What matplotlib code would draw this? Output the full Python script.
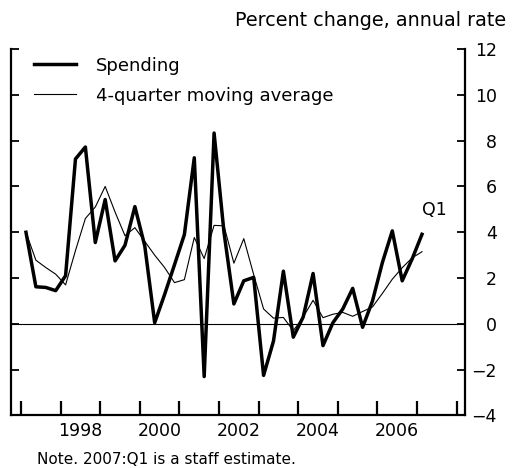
import matplotlib
matplotlib.use('Agg')
import matplotlib.pyplot as plt
import numpy as np
import pandas as pd

plt.rcParams['font.family'] = ['DejaVu Sans']

# quarterly data, 1997:Q1 - 2007:Q1
quarters = pd.period_range('1997Q1', '2007Q1', freq='Q')
spending = [4.0, 1.62, 1.59, 1.45, 2.1, 7.2, 7.72, 3.55, 5.43, 2.75,
            3.43, 5.12, 3.4, 0.05, 1.28, 2.58, 3.9, 7.25, -2.3, 8.33,
            4.0, 0.87, 1.88, 2.03, -2.25, -0.75, 2.3, -0.58, 0.3, 2.2,
            -0.95, 0.05, 0.65, 1.55, -0.15, 1.0, 2.68, 4.06, 1.88, 2.83,
            3.91]
moving_avg = [4.0, 2.78, 2.46, 2.17, 1.7, 3.2, 4.6, 5.1, 6.0, 4.88,
              3.85, 4.2, 3.6, 3.0, 2.46, 1.8, 1.93, 3.77, 2.85, 4.3,
              4.28, 2.65, 3.72, 2.15, 0.65, 0.25, 0.28, -0.3, 0.3, 1.03,
              0.27, 0.42, 0.5, 0.33, 0.54, 0.74, 1.33, 1.95, 2.45, 2.88,
              3.15]
year_labels = ['1998', '2000', '2002', '2004', '2006']
y_ticks = [-4, -2, 0, 2, 4, 6, 8, 10, 12]

x = np.array([q.year + (q.quarter - 0.5) / 4 for q in quarters])

fig = plt.figure(figsize=(5.15, 4.68), dpi=100)
ax = fig.add_axes([0.0214, 0.1122, 0.8816, 0.7831])

ax.axhline(0, color='black', lw=0.8)
ax.plot(x, spending, color='black', lw=2.5, label='Spending')
ax.plot(x, moving_avg, color='black', lw=0.8, label='4-quarter moving average')

ax.set_xlim(1996.7475, 2008.212)
ax.set_ylim(-4, 12)

ax.spines['top'].set_visible(False)
for s in ['left', 'right', 'bottom']:
    ax.spines[s].set_linewidth(1.6)

# y axis: ticks on both sides pointing in, labels on the right, right-aligned
ax.yaxis.set_ticks_position('both')
ax.set_yticks(y_ticks)
ax.tick_params(axis='y', which='major', direction='in', length=6, width=1.3,
               labelleft=False, labelright=True, labelsize=12.5, pad=23)
for t in ax.yaxis.get_major_ticks():
    t.label2.set_horizontalalignment('right')

# x axis: long ticks at year starts, labels mid-year
ax.set_xticks(np.arange(1997, 2009))
ax.set_xticklabels([])
ax.set_xticks([int(y) + 0.5 for y in year_labels], minor=True)
ax.set_xticklabels(year_labels, minor=True)
ax.tick_params(axis='x', which='major', direction='in', length=10, width=1.6)
ax.tick_params(axis='x', which='minor', length=0, labelsize=12.5, pad=5)

ax.legend(loc='upper left', bbox_to_anchor=(0.066, 0.8786),
          bbox_transform=fig.transFigure, frameon=False, borderpad=0,
          borderaxespad=0, fontsize=13, handlelength=2.33,
          handletextpad=1.1, labelspacing=0.65)

ax.text(2007.45, 4.95, 'Q1', ha='center', va='center', fontsize=12.5)

fig.text(0.983, 0.957, 'Percent change, annual rate', ha='right',
         va='center', fontsize=13.8)
fig.text(0.071, 0.008, 'Note. 2007:Q1 is a staff estimate.', ha='left',
         va='baseline', fontsize=11)

fig.savefig('out.png', dpi=100)
